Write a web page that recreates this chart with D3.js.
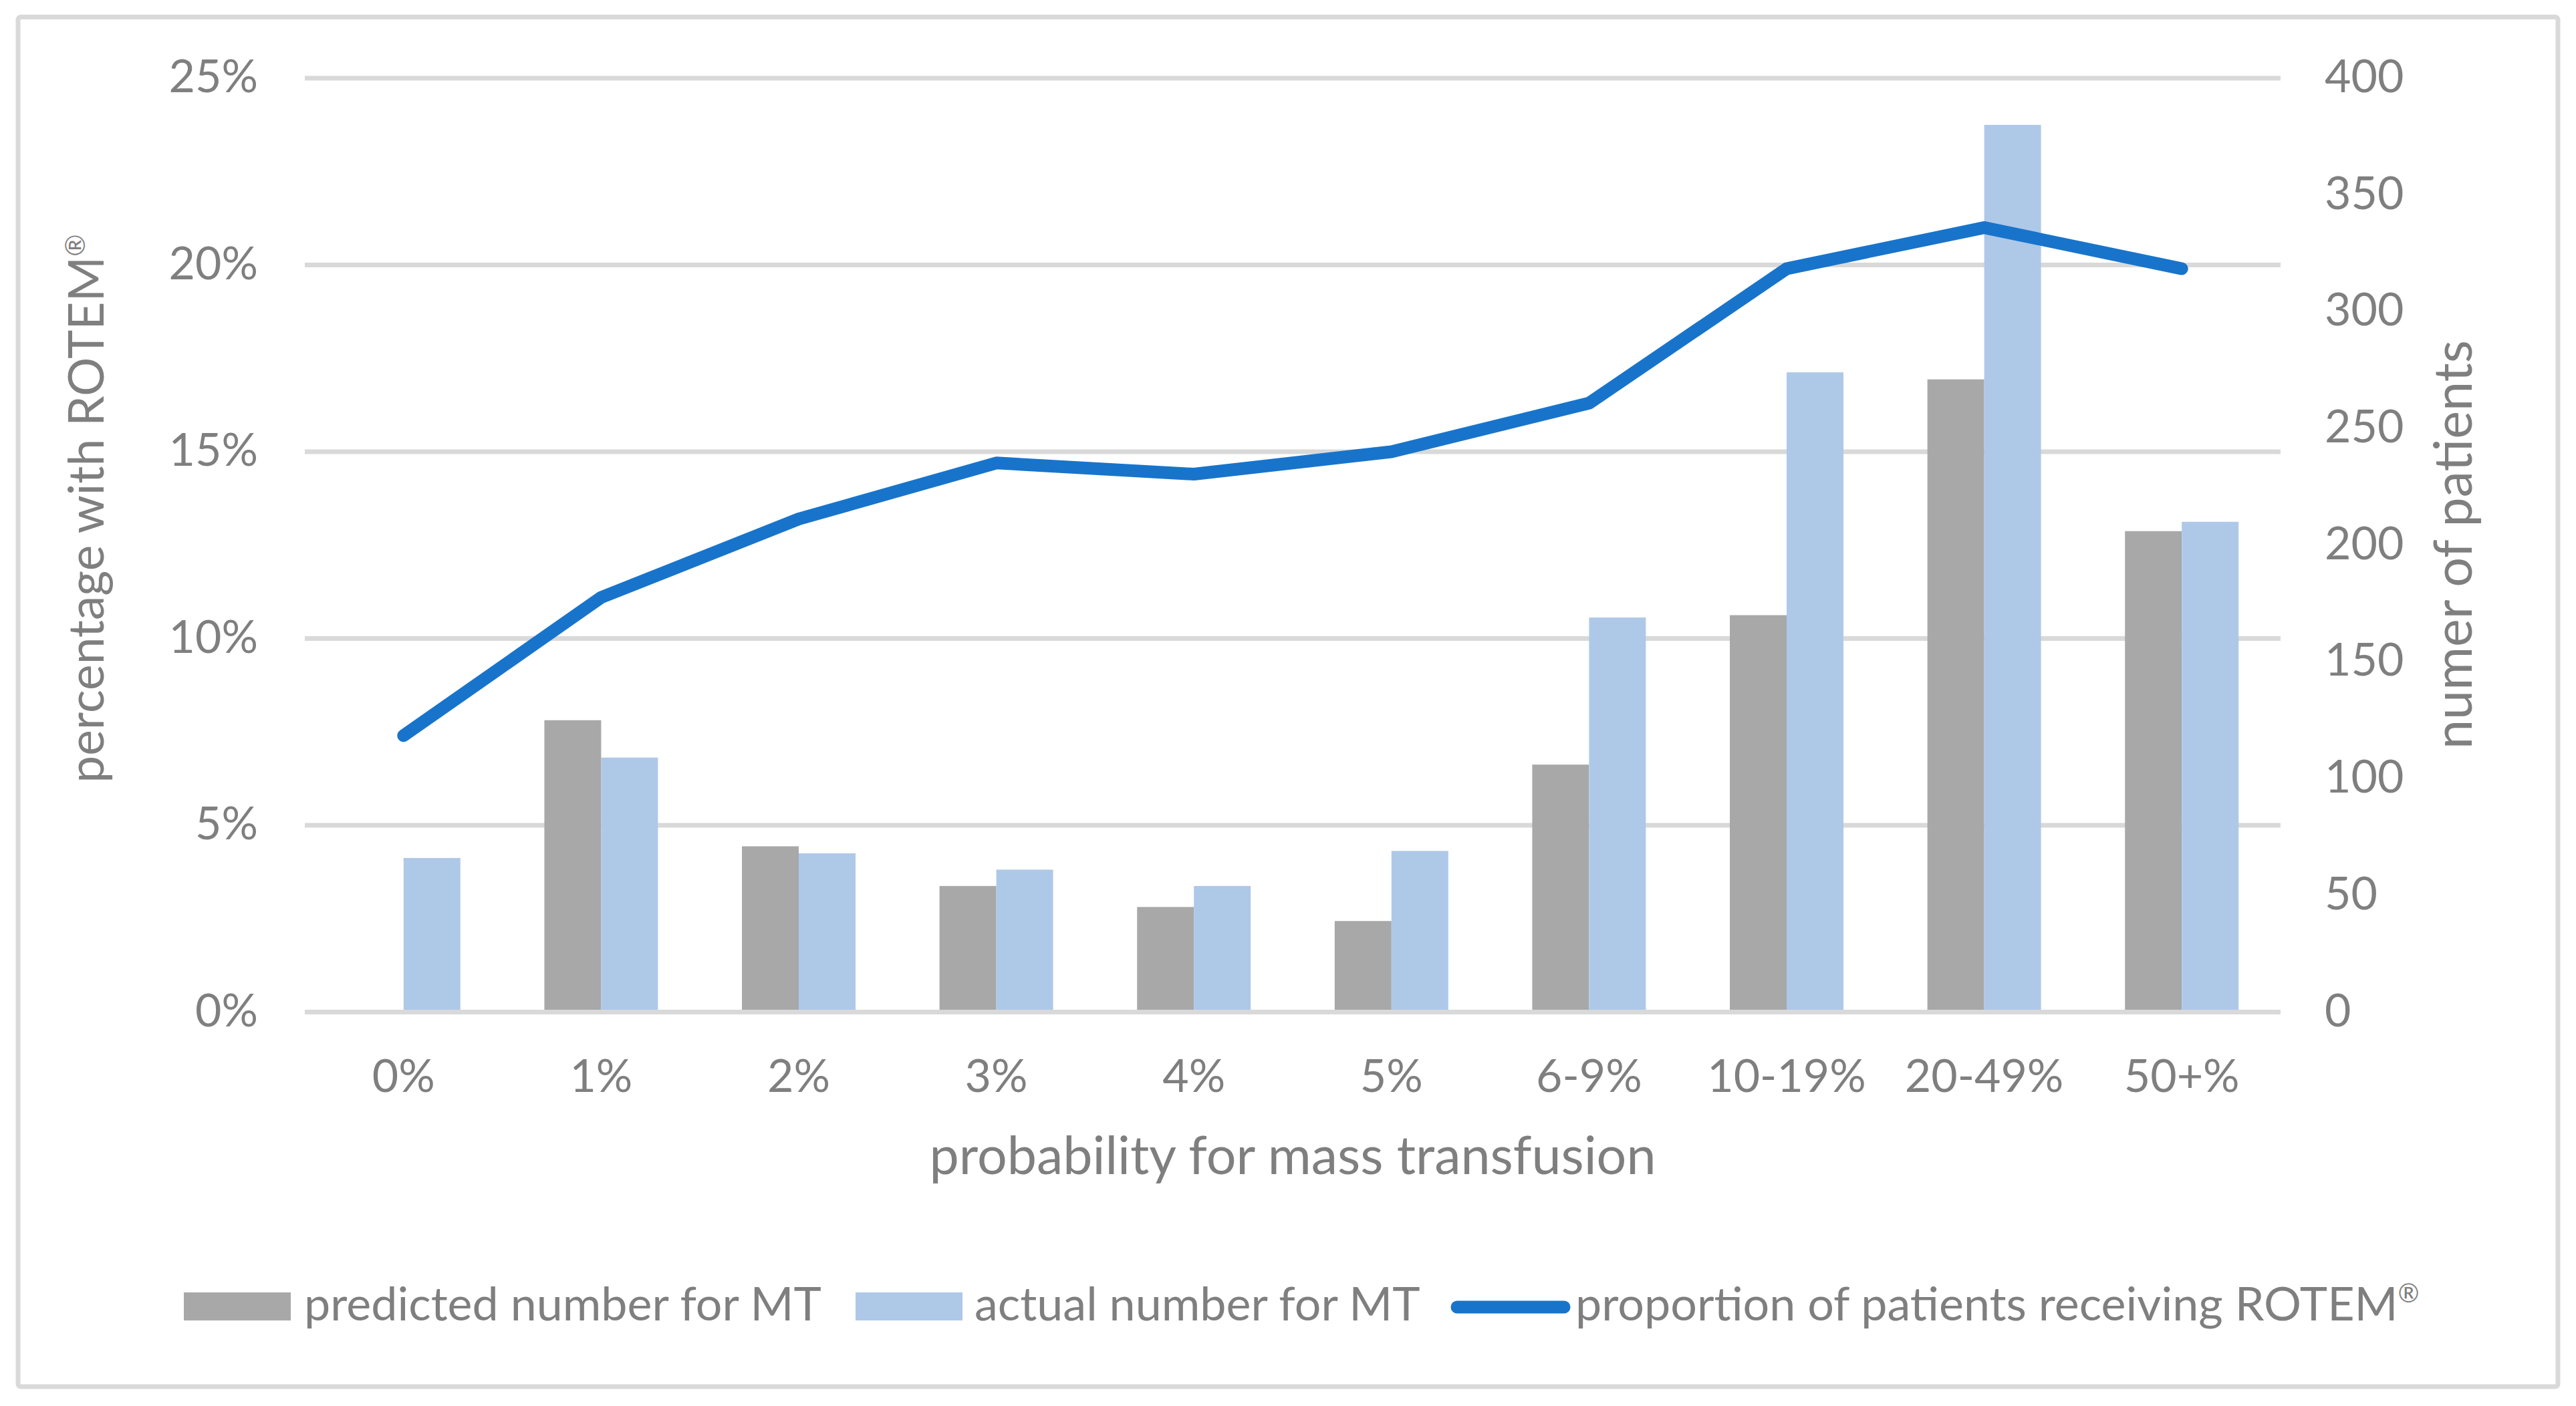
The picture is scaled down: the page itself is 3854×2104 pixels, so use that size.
<!DOCTYPE html>
<html>
<head>
<meta charset="utf-8">
<script src="https://cdn.jsdelivr.net/npm/d3@7"></script>
<style>
  html, body { margin: 0; padding: 0; background: #ffffff; }
  svg { display: block; }
  text { font-family: Lato, "Open Sans", sans-serif; fill: #7f7f7f; }
</style>
</head>
<body>
<svg id="chart" width="3854" height="2104"></svg>
<script>
// ---- data ----
const categories = ["0%", "1%", "2%", "3%", "4%", "5%", "6-9%", "10-19%", "20-49%", "50+%"];
const predictedMT = [0, 125, 71, 54, 45, 39, 106, 170, 271, 206];
const actualMT = [66, 109, 68, 61, 54, 69, 169, 274, 380, 210];
const proportionROTEM = [0.074, 0.111, 0.132, 0.147, 0.144, 0.150, 0.163, 0.199, 0.210, 0.199];
const leftTicks = [0, 0.05, 0.10, 0.15, 0.20, 0.25];
const rightTicks = [0, 50, 100, 150, 200, 250, 300, 350, 400];
const seriesNames = ["predicted number for MT", "actual number for MT", "proportion of patients receiving ROTEM"];
const seriesColors = ["#a8a8a8", "#aec8e8", "#1874cb"];

// ---- layout ----
const W = 3854, H = 2104;
const plot = { left: 456, right: 3412, top: 117, bottom: 1514.5 };
const FS = 68;       // tick labels
const LFS = 70;      // legend
const TFS = 79;      // axis titles
const LTFS = 73;     // left axis title

const svg = d3.select("#chart");

// outer frame
svg.append("rect")
  .attr("x", 27).attr("y", 25.5)
  .attr("width", W - 54).attr("height", 2075 - 25.5)
  .attr("rx", 4)
  .attr("fill", "#ffffff")
  .attr("stroke", "#d9d9d9").attr("stroke-width", 7);

// scales
const x = d3.scaleBand().domain(categories)
  .range([plot.left, plot.right])
  .paddingInner(0.425).paddingOuter(0.2125);
const xs = d3.scaleBand().domain(["predicted", "actual"]).range([0, x.bandwidth()]);
const yL = d3.scaleLinear().domain([0, 0.25]).range([plot.bottom, plot.top]);
const yR = d3.scaleLinear().domain([0, 400]).range([plot.bottom, plot.top]);

// gridlines (baseline drawn after bars)
svg.append("g").selectAll("line")
  .data(leftTicks.filter(t => t > 0))
  .join("line")
  .attr("x1", plot.left).attr("x2", plot.right)
  .attr("y1", d => yL(d)).attr("y2", d => yL(d))
  .attr("stroke", "#d9d9d9").attr("stroke-width", 7);

// bars
const barData = categories.map((c, i) => ({ c, predicted: predictedMT[i], actual: actualMT[i] }));
const groups = svg.append("g").selectAll("g")
  .data(barData).join("g")
  .attr("transform", d => `translate(${x(d.c)},0)`);
groups.selectAll("rect")
  .data(d => [{ k: "predicted", v: d.predicted }, { k: "actual", v: d.actual }])
  .join("rect")
  .attr("x", d => xs(d.k))
  .attr("width", xs.bandwidth())
  .attr("y", d => yR(d.v))
  .attr("height", d => yR(0) - yR(d.v))
  .attr("fill", d => d.k === "predicted" ? seriesColors[0] : seriesColors[1]);

// baseline
svg.append("line")
  .attr("x1", plot.left).attr("x2", plot.right)
  .attr("y1", yL(0)).attr("y2", yL(0))
  .attr("stroke", "#d9d9d9").attr("stroke-width", 7);

// line
const line = d3.line()
  .x((d, i) => x(categories[i]) + x.bandwidth() / 2)
  .y(d => yL(d));
svg.append("path")
  .datum(proportionROTEM)
  .attr("d", line)
  .attr("fill", "none")
  .attr("stroke", seriesColors[2])
  .attr("stroke-width", 19)
  .attr("stroke-linecap", "round")
  .attr("stroke-linejoin", "round");

// left axis labels
const fmtPct = d3.format(".0%");
svg.append("g").selectAll("text")
  .data(leftTicks).join("text")
  .attr("x", 386).attr("y", d => yL(d) + 21)
  .attr("text-anchor", "end")
  .attr("font-size", FS)
  .text(d => fmtPct(d));

// right axis labels
svg.append("g").selectAll("text")
  .data(rightTicks).join("text")
  .attr("x", 3478).attr("y", d => yR(d) + 21)
  .attr("text-anchor", "start")
  .attr("font-size", FS)
  .text(d => d);

// x axis labels
svg.append("g").selectAll("text")
  .data(categories).join("text")
  .attr("x", d => x(d) + x.bandwidth() / 2)
  .attr("y", 1634)
  .attr("text-anchor", "middle")
  .attr("font-size", FS)
  .text(d => d);

// helper for superscript ®
function withReg(sel, txt, size) {
  sel.append("tspan").text(txt);
  sel.append("tspan")
    .attr("font-size", size * 0.55)
    .attr("dy", -size * 0.38)
    .text("®");
}

// axis titles
svg.append("text")
  .attr("x", (plot.left + plot.right) / 2).attr("y", 1757)
  .attr("text-anchor", "middle")
  .attr("font-size", TFS)
  .text("probability for mass transfusion");

const lt = svg.append("text")
  .attr("transform", "translate(155,761) rotate(-90)")
  .attr("text-anchor", "middle")
  .attr("font-size", LTFS);
withReg(lt, "percentage with ROTEM", LTFS);

svg.append("text")
  .attr("transform", "translate(3698,815) rotate(-90)")
  .attr("text-anchor", "middle")
  .attr("font-size", TFS)
  .text("numer of patients");

// legend
const legY = 1955;
const leg = svg.append("g");
leg.append("rect").attr("x", 275).attr("y", legY - 21).attr("width", 160).attr("height", 42).attr("fill", seriesColors[0]);
leg.append("text").attr("x", 455).attr("y", legY + 21).attr("font-size", LFS).text(seriesNames[0]);
leg.append("rect").attr("x", 1280).attr("y", legY - 21).attr("width", 160).attr("height", 42).attr("fill", seriesColors[1]);
leg.append("text").attr("x", 1458).attr("y", legY + 21).attr("font-size", LFS).text(seriesNames[1]);
leg.append("line").attr("x1", 2180).attr("x2", 2340).attr("y1", legY + 1).attr("y2", legY + 1)
  .attr("stroke", seriesColors[2]).attr("stroke-width", 19).attr("stroke-linecap", "round");
const lg3 = leg.append("text").attr("x", 2357).attr("y", legY + 21).attr("font-size", LFS);
withReg(lg3, seriesNames[2], LFS);
</script>
</body>
</html>
